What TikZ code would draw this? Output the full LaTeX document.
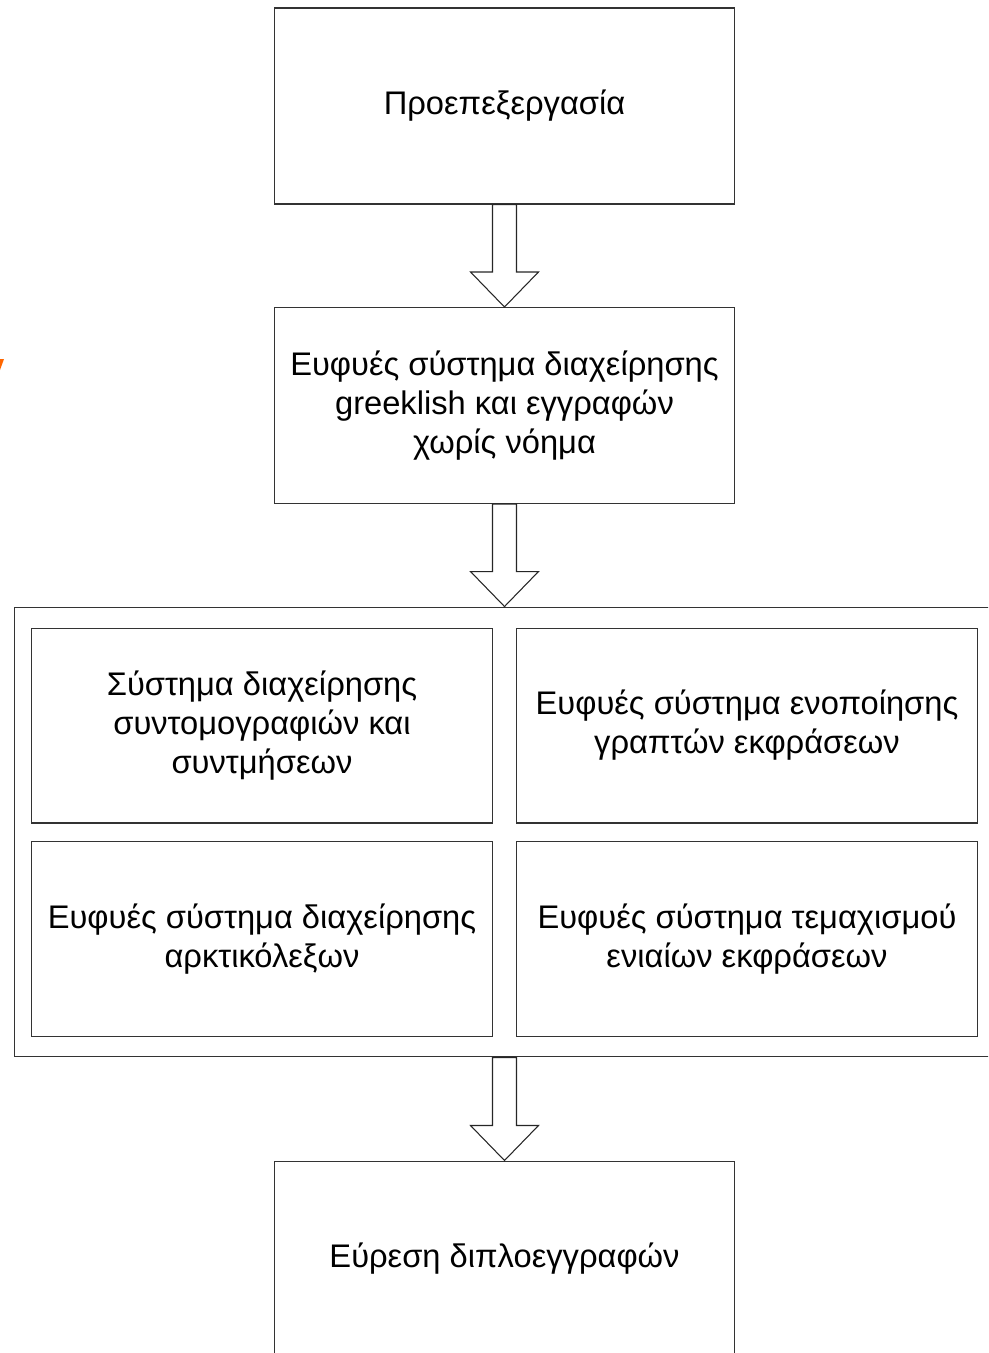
\documentclass[tikz,border=0pt]{standalone}
\usepackage{fontspec}
\setmainfont{Liberation Sans}
\usetikzlibrary{positioning,calc}

% block arrow from the bottom of one box to the top of the next
\newcommand{\blockarrow}[2]{%
  \draw[flow] ($(#1.south -| #2.north)+(-12,0)$) -- ($(#2.north)+(-12,-35)$)
    -- ($(#2.north)+(-34,-35)$) -- (#2.north) -- ($(#2.north)+(34,-35)$)
    -- ($(#2.north)+(12,-35)$) -- ($(#1.south -| #2.north)+(12,0)$) -- cycle;}

\begin{document}
\begin{tikzpicture}[x=0.02cm,y=-0.02cm,
    stage/.style={rectangle,draw=black!80,line width=0.6pt,minimum width=9.22cm,minimum height=3.92cm,
      align=center,inner sep=0pt,font=\fontsize{18.6}{22.2}\selectfont},
    sub/.style={stage,minimum width=9.24cm,minimum height=3.9cm},
    flow/.style={draw=black!85,line width=0.6pt,fill=white}]

\useasboundingbox (0,0) rectangle (988,1353);
\clip (0,0) rectangle (988,1353);

\node[stage] (prep) at (504.5,106) {Προεπεξεργασία};
\node[stage] (greeklish) at (504.5,405.5) {Ευφυές σύστημα διαχείρησης\\greeklish και εγγραφών\\χωρίς νόημα};

% outer frame of the four subsystems
\node[stage,minimum width=19.62cm,minimum height=9cm] (group) at (504.5,832) {};
\node[sub] (abbrev) at (262,725.5) {Σύστημα διαχείρησης\\συντομογραφιών και\\συντμήσεων};
\node[sub] (unify) at (747,725.5) {Ευφυές σύστημα ενοποίησης\\γραπτών εκφράσεων};
\node[sub] (acronym) at (262,939) {Ευφυές σύστημα διαχείρησης\\αρκτικόλεξων};
\node[sub] (split) at (747,939) {Ευφυές σύστημα τεμαχισμού\\ενιαίων εκφράσεων};

\node[stage] (dupes) at (504.5,1259) {Εύρεση διπλοεγγραφών};

\blockarrow{prep}{greeklish}
\blockarrow{greeklish}{group}
\blockarrow{group}{dupes}

\fill[orange!80!red] (0,359) -- (4,359) -- (0,370) -- cycle;

\end{tikzpicture}
\end{document}
